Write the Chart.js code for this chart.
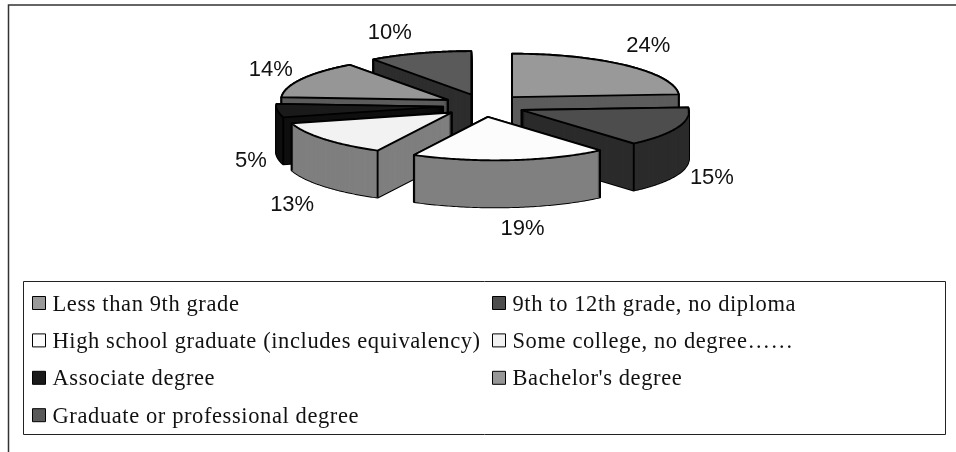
<!DOCTYPE html>
<html>
<head>
<meta charset="utf-8">
<script src="https://cdn.jsdelivr.net/npm/chart.js@4"></script>
<style>
  html, body { margin: 0; padding: 0; background: #fff; }
  canvas { display: block; }
</style>
</head>
<body>
<canvas id="chart" width="956" height="452"></canvas>
<script>
const categories = [
  'Less than 9th grade',
  '9th to 12th grade, no diploma',
  'High school graduate (includes equivalency)',
  'Some college, no degree\u2026\u2026',
  'Associate degree',
  "Bachelor's degree",
  'Graduate or professional degree'
];
const shares = [24, 15, 19, 13, 5, 14, 10];

const topColors = ['#999999', '#4d4d4d', '#fcfcfc', '#f2f2f2', '#1a1a1a', '#969696', '#5a5a5a'];
const wallColors = ['#5c5c5c', '#2b2b2b', '#808080', '#7f7f7f', '#0f0f0f', '#5c5c5c', '#2d2d2d'];

// fake 3d look
const tilt = 0.26;
const tiltExplode = 0.28;
const explode = 41;
const depth = 47;
const lean = 0.17; // front slices lean right in the original's perspective
// label shift from the middle of each slice's rim
const labelShift = [[22, -20], [37, 51], [19, 69], [-27.5, 66], [-26, 50], [-31, -9], [-30, -20]];

function rimPoint(x, y, r, a, shear) {
  const dy = Math.sin(a) * r * tilt;
  return [x + Math.cos(a) * r + Math.max(dy, 0) * shear, y + dy];
}

function slicePath(ctx, x, y, r, s, e, shear) {
  ctx.beginPath();
  ctx.moveTo(x, y);
  for (let n = 0; n <= 80; n++) {
    const p = rimPoint(x, y, r, s + (e - s) * n / 80, shear);
    ctx.lineTo(p[0], p[1]);
  }
  ctx.closePath();
}

function drawSlice(ctx, arc, i) {
  const s = arc.startAngle, e = arc.endAngle, r = arc.outerRadius;
  const mid = (s + e) / 2;
  const x = arc.x + Math.cos(mid) * explode;
  const y = arc.y + Math.sin(mid) * explode * tiltExplode;
  const shear = Math.sin(mid) > 0 ? lean : 0;

  // black silhouette first, then wall colour on top of it
  ctx.strokeStyle = '#000';
  ctx.lineWidth = 1.9;
  ctx.lineJoin = 'round';
  for (let d = depth; d >= 0; d--) {
    slicePath(ctx, x, y + d, r, s, e, shear);
    ctx.stroke();
  }
  ctx.fillStyle = wallColors[i];
  for (let d = depth; d >= 0; d--) {
    slicePath(ctx, x, y + d, r, s, e, shear);
    ctx.fill();
  }

  // vertical edges that face the viewer
  const eps = 1e-6;
  const edges = [];
  if (Math.cos(s) < -eps || Math.cos(e) > eps) edges.push([x, y]);
  if (Math.cos(s) < -eps || Math.sin(s) > eps) edges.push(rimPoint(x, y, r, s, shear));
  if (Math.cos(e) > eps || Math.sin(e) > eps) edges.push(rimPoint(x, y, r, e, shear));
  edges.forEach(p => {
    ctx.beginPath();
    ctx.moveTo(p[0], p[1]);
    ctx.lineTo(p[0], p[1] + depth);
    ctx.stroke();
  });

  slicePath(ctx, x, y, r, s, e, shear);
  ctx.fillStyle = topColors[i];
  ctx.fill();
  ctx.stroke();
}

function drawLegend(ctx, labels) {
  ctx.strokeStyle = '#222';
  ctx.lineWidth = 1;
  ctx.strokeRect(23.5, 281.5, 922, 153);
  ctx.font = '22.5px "Liberation Serif"';
  ctx.textBaseline = 'alphabetic';
  ctx.textAlign = 'left';
  ctx.letterSpacing = '0.6px';
  labels.forEach((label, i) => {
    const col = i % 2, row = Math.floor(i / 2);
    const bx = col ? 492.5 : 32.5;
    const by = 296.5 + row * 37.4;
    ctx.fillStyle = topColors[i];
    ctx.fillRect(bx, by, 13, 13);
    ctx.strokeStyle = '#000';
    ctx.strokeRect(bx, by, 13, 13);
    ctx.fillStyle = '#111';
    ctx.fillText(label, bx + 20, by + 14);
  });
  ctx.letterSpacing = '0px';
}

const fake3d = {
  id: 'fake3d',
  beforeDatasetsDraw(chart) {
    const ctx = chart.ctx;
    const arcs = chart.getDatasetMeta(0).data;

    // outer frame, open at the right and at the bottom
    ctx.save();
    ctx.strokeStyle = '#333';
    ctx.lineWidth = 1.5;
    ctx.beginPath();
    ctx.moveTo(8.5, 452);
    ctx.lineTo(8.5, 5);
    ctx.lineTo(956, 5);
    ctx.stroke();

    // back slices first
    const order = arcs.map((a, i) => i).sort((a, b) =>
      Math.sin((arcs[a].startAngle + arcs[a].endAngle) / 2) -
      Math.sin((arcs[b].startAngle + arcs[b].endAngle) / 2));
    order.forEach(i => drawSlice(ctx, arcs[i], i));

    ctx.font = '22px "Liberation Sans"';
    ctx.fillStyle = '#111';
    ctx.textAlign = 'center';
    ctx.textBaseline = 'middle';
    arcs.forEach((arc, i) => {
      const mid = (arc.startAngle + arc.endAngle) / 2;
      const px = arc.x + Math.cos(mid) * (explode + arc.outerRadius);
      const py = arc.y + Math.sin(mid) * (explode * tiltExplode + arc.outerRadius * tilt);
      ctx.fillText(chart.data.datasets[0].data[i] + '%', px + labelShift[i][0], py + labelShift[i][1]);
    });

    drawLegend(ctx, chart.data.labels);
    ctx.restore();
    return false;
  }
};

new Chart(document.getElementById('chart'), {
  type: 'pie',
  data: {
    labels: categories,
    datasets: [{ data: shares, backgroundColor: topColors }]
  },
  options: {
    responsive: false,
    animation: false,
    radius: 167,
    layout: { padding: { left: 12, right: 0, top: 0, bottom: 241 } },
    plugins: { legend: { display: false }, tooltip: { enabled: false } }
  },
  plugins: [fake3d]
});
</script>
</body>
</html>
